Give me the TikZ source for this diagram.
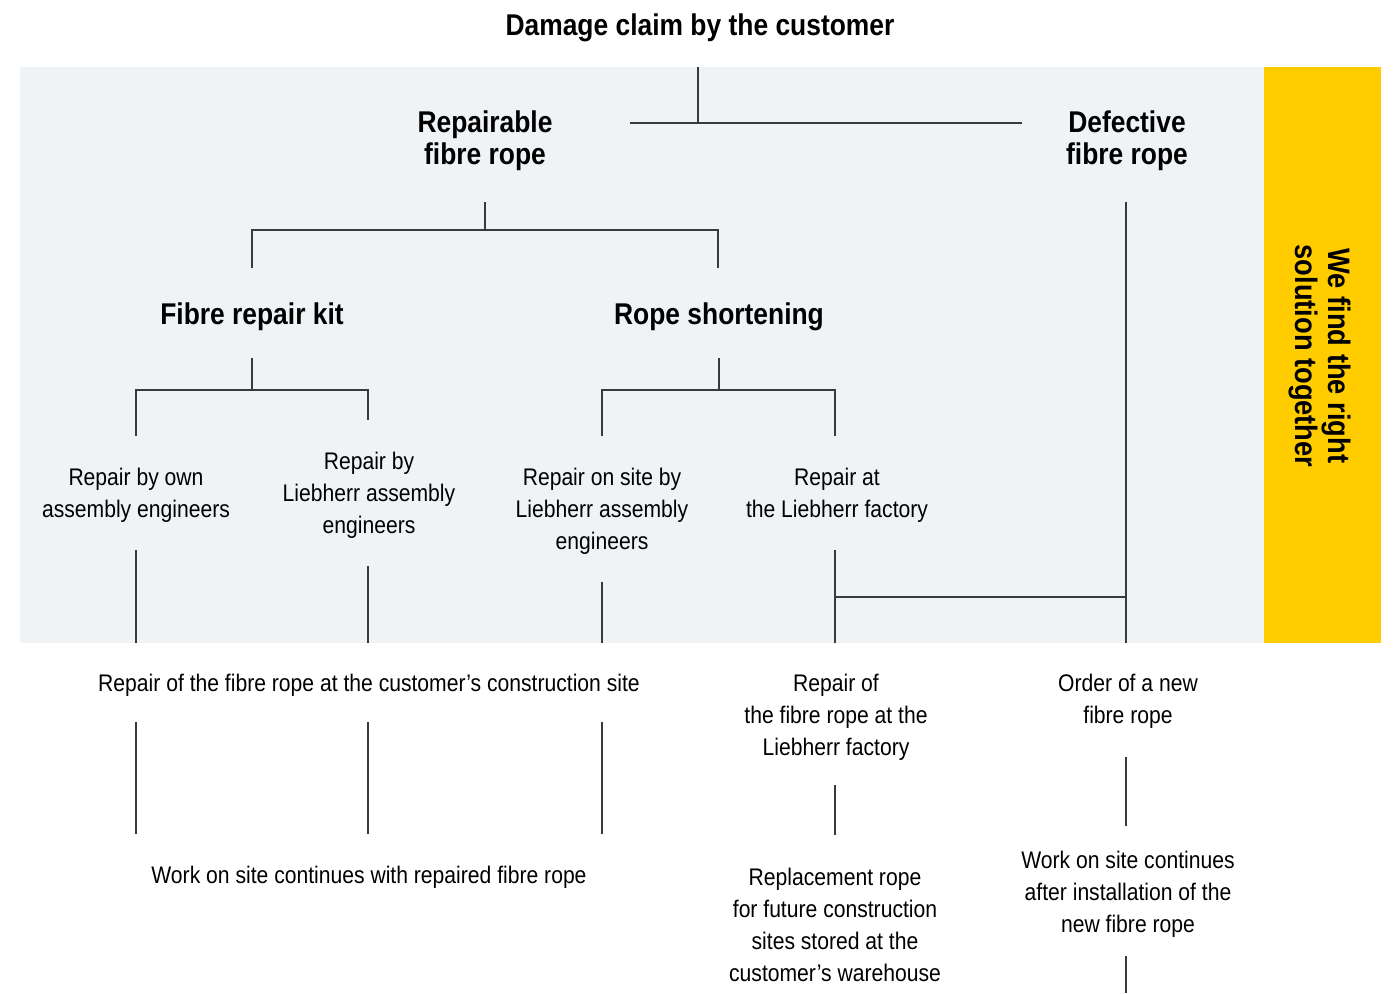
\documentclass[tikz,border=0pt]{standalone}
\usepackage{fontspec}
\setmainfont{Liberation Sans}[FakeStretch=0.88]
\definecolor{bgray}{HTML}{F0F3F6}
\definecolor{ylw}{HTML}{FFCC00}
\definecolor{linec}{HTML}{3A3A3A}
\tikzset{
  lbl/.style={align=center, inner sep=0pt, yshift=-2pt, font=\fontsize{24}{32}\selectfont},
  head/.style={align=center, inner sep=0pt, yshift=-2.5pt, font=\fontsize{30}{32}\selectfont\bfseries},
  conn/.style={draw=linec, line width=1.4pt},
}
\begin{document}
\begin{tikzpicture}[x=1pt,y=-1pt]
\useasboundingbox (0,0) rectangle (1396,993);
\fill[white] (0,0) rectangle (1396,993);
\fill[bgray] (20,67) rectangle (1264,643);
\fill[ylw] (1264,67) rectangle (1381,643);

% nodes
\node[head] (title) at (700,25) {Damage claim by the customer};
\node[head] (rep) at (485,138) {Repairable\\fibre rope};
\node[head] (def) at (1127,138) {Defective\\fibre rope};
\node[head] (kit) at (252,314) {Fibre repair kit};
\node[head] (short) at (719,314) {Rope shortening};
\node[lbl] (r1) at (136,493) {Repair by own\\assembly engineers};
\node[lbl] (r2) at (369,493) {Repair by\\Liebherr assembly\\engineers};
\node[lbl] (r3) at (602,509) {Repair on site by\\Liebherr assembly\\engineers};
\node[lbl] (r4) at (837,493) {Repair at\\the Liebherr factory};
\node[lbl] (site) at (369,683) {Repair of the fibre rope at the customer’s construction site};
\node[lbl] (fac) at (836,715) {Repair of\\the fibre rope at the\\Liebherr factory};
\node[lbl] (order) at (1128,699) {Order of a new\\fibre rope};
\node[lbl] (cont) at (369,875) {Work on site continues with repaired fibre rope};
\node[lbl] (repl) at (835,923) {Replacement rope\\for future construction\\sites stored at the\\customer’s warehouse};
\node[lbl] (cont2) at (1128,892) {Work on site continues\\after installation of the\\new fibre rope};
\node[align=center, inner sep=0pt, rotate=-90, font=\fontsize{31}{33}\selectfont\bfseries] (slogan) at (1320,356) {We find the right\\solution together};

% coordinates
\coordinate (t0) at (698,67);   \coordinate (t1) at (698,123);
\coordinate (hL) at (630,123);  \coordinate (hR) at (1022,123);
\coordinate (a0) at (485,202);  \coordinate (a1) at (485,230);
\coordinate (aL) at (252,230);  \coordinate (aR) at (718,230);
\coordinate (aLd) at (252,268); \coordinate (aRd) at (718,268);
\coordinate (k0) at (252,358);  \coordinate (k1) at (252,390);
\coordinate (kL) at (136,390);  \coordinate (kR) at (368,390);
\coordinate (kLd) at (136,436); \coordinate (kRd) at (368,420);
\coordinate (s0) at (719,358);  \coordinate (s1) at (719,390);
\coordinate (sL) at (602,390);  \coordinate (sR) at (835,390);
\coordinate (sLd) at (602,436); \coordinate (sRd) at (835,436);
\coordinate (d0) at (1126,202); \coordinate (d1) at (1126,643);
\coordinate (j) at (1126,597);  \coordinate (jL) at (835,597);
\coordinate (b1a) at (136,550); \coordinate (b1b) at (136,643);
\coordinate (b2a) at (368,566); \coordinate (b2b) at (368,643);
\coordinate (b3a) at (602,582); \coordinate (b3b) at (602,643);
\coordinate (b4a) at (835,550); \coordinate (b4b) at (835,643);
\coordinate (c1a) at (136,722); \coordinate (c1b) at (136,834);
\coordinate (c2a) at (368,722); \coordinate (c2b) at (368,834);
\coordinate (c3a) at (602,722); \coordinate (c3b) at (602,834);
\coordinate (f0) at (835,785);  \coordinate (f1) at (835,835);
\coordinate (o0) at (1126,757); \coordinate (o1) at (1126,826);
\coordinate (e0) at (1126,956); \coordinate (e1) at (1126,993);

% connectors
\draw[conn] (t0) -- (t1);
\draw[conn] (hL) -- (hR);
\draw[conn] (a0) -- (a1);
\draw[conn] (aLd) -- (aL) -- (aR) -- (aRd);
\draw[conn] (k0) -- (k1);
\draw[conn] (kLd) -- (kL) -- (kR) -- (kRd);
\draw[conn] (s0) -- (s1);
\draw[conn] (sLd) -- (sL) -- (sR) -- (sRd);
\draw[conn] (d0) -- (d1);
\draw[conn] (jL) -- (j);
\draw[conn] (b1a) -- (b1b);
\draw[conn] (b2a) -- (b2b);
\draw[conn] (b3a) -- (b3b);
\draw[conn] (b4a) -- (b4b);
\draw[conn] (c1a) -- (c1b);
\draw[conn] (c2a) -- (c2b);
\draw[conn] (c3a) -- (c3b);
\draw[conn] (f0) -- (f1);
\draw[conn] (o0) -- (o1);
\draw[conn] (e0) -- (e1);
\end{tikzpicture}
\end{document}
